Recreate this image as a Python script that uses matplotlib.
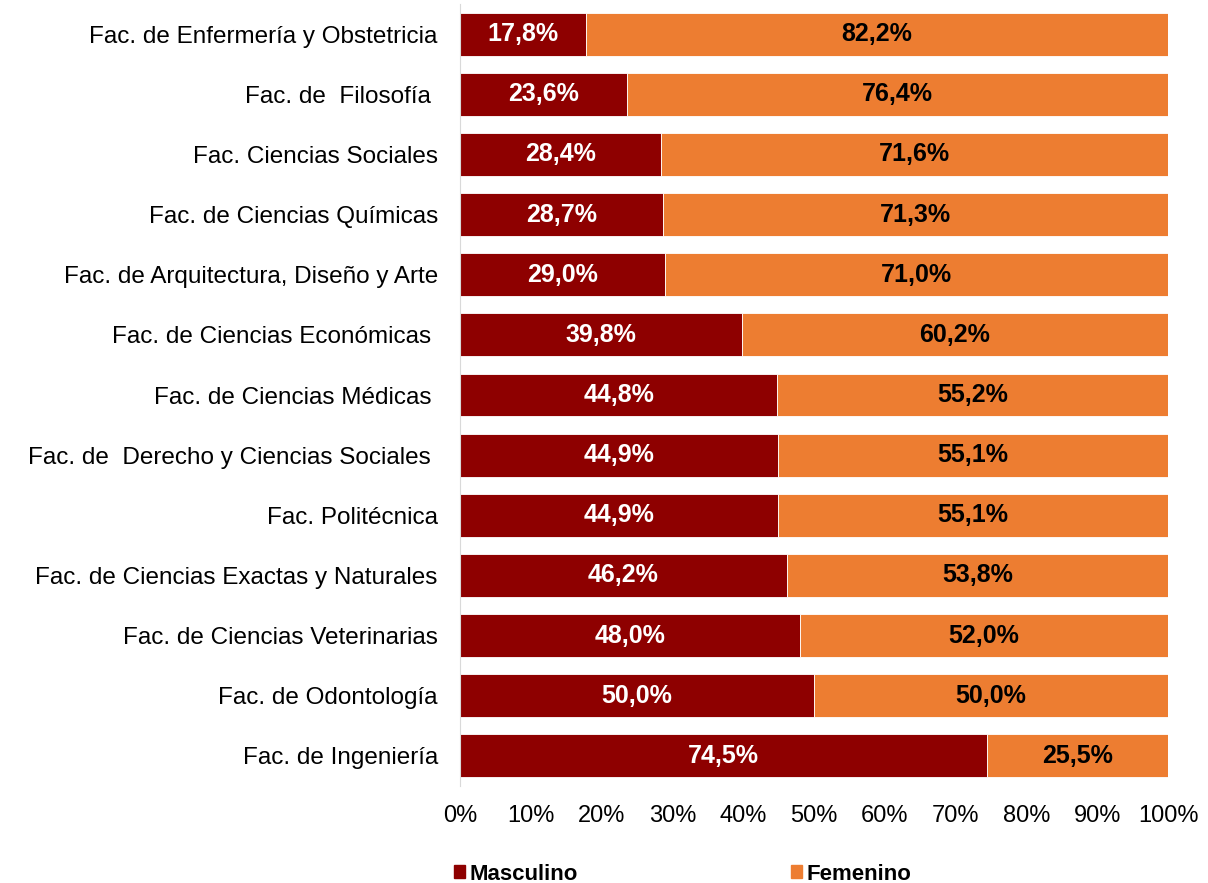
import matplotlib
matplotlib.use("Agg")
from matplotlib import pyplot as plt
from matplotlib.patches import Patch
from matplotlib.ticker import PercentFormatter

facultades = [
    "Fac. de Enfermería y Obstetricia",
    "Fac. de  Filosofía ",
    "Fac. Ciencias Sociales",
    "Fac. de Ciencias Químicas",
    "Fac. de Arquitectura, Diseño y Arte",
    "Fac. de Ciencias Económicas ",
    "Fac. de Ciencias Médicas ",
    "Fac. de  Derecho y Ciencias Sociales ",
    "Fac. Politécnica",
    "Fac. de Ciencias Exactas y Naturales",
    "Fac. de Ciencias Veterinarias",
    "Fac. de Odontología",
    "Fac. de Ingeniería",
]
masculino = [17.8, 23.6, 28.4, 28.7, 29.0, 39.8, 44.8, 44.9, 44.9, 46.2, 48.0, 50.0, 74.5]
femenino = [82.2, 76.4, 71.6, 71.3, 71.0, 60.2, 55.2, 55.1, 55.1, 53.8, 52.0, 50.0, 25.5]

col_m = "#8E0000"
col_f = "#ED7D31"

plt.rcParams['font.family'] = ['Liberation Sans', 'DejaVu Sans']

fig = plt.figure(figsize=(12.08, 8.83), dpi=100)
ax = fig.add_axes([460 / 1208, 97 / 883, 708 / 1208, 782 / 883])

y = list(range(len(facultades)))
ax.barh(y, masculino, height=0.714, color=col_m, edgecolor='white', linewidth=0.6)
ax.barh(y, femenino, left=masculino, height=0.714, color=col_f, edgecolor='white', linewidth=0.6)

for i in range(len(facultades)):
    ax.text(masculino[i] / 2, i, ("%.1f%%" % masculino[i]).replace('.', ','),
            ha='center', va='center', color='white', fontsize=18, fontweight='bold')
    ax.text(masculino[i] + femenino[i] / 2, i, ("%.1f%%" % femenino[i]).replace('.', ','),
            ha='center', va='center', color='black', fontsize=18, fontweight='bold')

ax.set_ylim(12.5, -0.5)
ax.set_xlim(0, 100)
ax.set_yticks(y)
ax.set_yticklabels(facultades, fontsize=17.5)
ax.set_xticks(range(0, 101, 10))
ax.xaxis.set_major_formatter(PercentFormatter(decimals=0))
ax.tick_params(axis='x', labelsize=17, length=0, pad=14)
ax.tick_params(axis='y', length=0, pad=16)
for s in ['top', 'right', 'bottom']:
    ax.spines[s].set_visible(False)
ax.spines['left'].set_color('#D9D9D9')

handles = [Patch(color=col_m, label='Masculino'), Patch(color=col_f, label='Femenino')]
fig.legend(handles=handles, loc='center left', bbox_to_anchor=(434 / 1208, 1 - 874 / 883),
           ncol=2, frameon=False, handlelength=0.5, handleheight=0.5, handletextpad=0.2,
           columnspacing=9.6, prop={'size': 16, 'weight': 'bold'})

plt.savefig('out.png', dpi=100)
